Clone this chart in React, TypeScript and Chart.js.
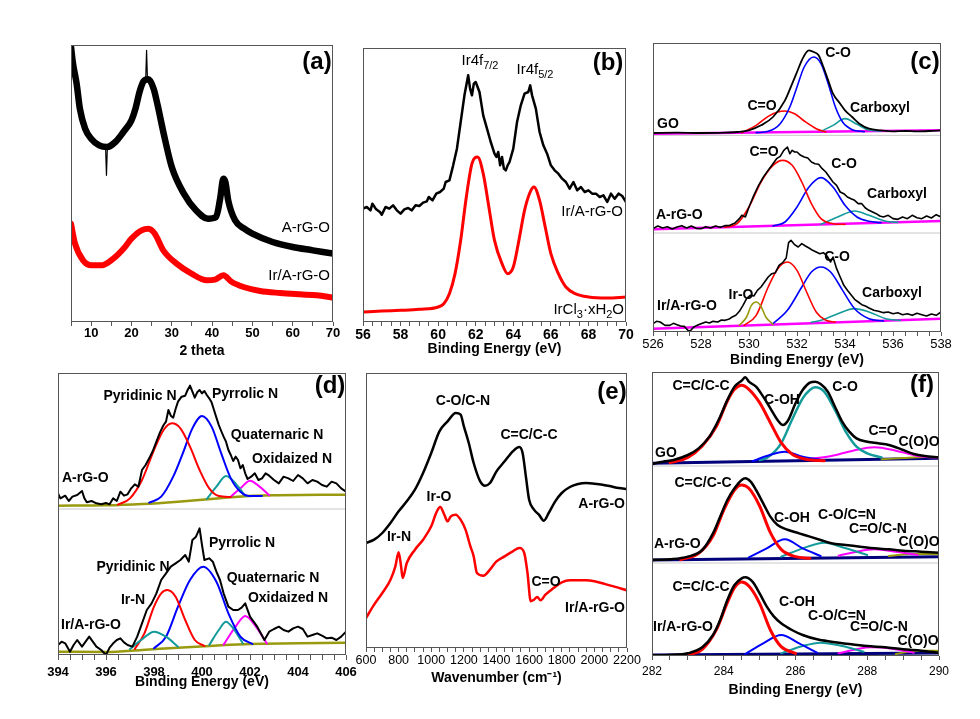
import React, { useEffect, useRef } from 'react';
import { Chart, registerables } from 'chart.js';

Chart.register(...registerables);

const FONT = '"Liberation Sans", Arial, Helvetica, sans-serif';
const BLACK = '#000000';
const RED = '#ff0000';
const BLUE = '#0000ff';
const TEAL = '#139a9a';
const MAGENTA = '#ff00ff';
const OLIVE = '#9a9a10';
const NAVY = '#00007a';
const SEPARATOR = '#c8c8c8';

// ===== (a) XRD, intensity in arbitrary units =====
const xrdTheta_ArGO = [5, 5.5, 6.4, 7.2, 8.5, 10, 12, 14, 16, 18, 20, 21, 22, 23, 24.2, 25.5, 26.5, 28, 30, 33, 36, 39, 41, 42, 42.8, 43.3, 44, 45.7, 48, 50, 55, 60, 65, 70];
const xrdInt_ArGO = [825, 775, 715, 640, 580, 550, 530, 525, 540, 570, 605, 640, 690, 722, 728, 700, 650, 565, 465, 385, 335, 310, 315, 370, 430, 420, 365, 305, 280, 265, 240, 225, 215, 205];
const xrdSpike1Theta = [23.55, 23.75, 23.95];
const xrdSpike1Int = [735, 815, 735];
const xrdSpike2Theta = [13.6, 13.8, 14.0];
const xrdSpike2Int = [515, 440, 515];
const xrdTheta_Ir = [5, 6, 8, 10.1, 12.6, 15.5, 18.4, 20, 22.5, 24.2, 25.8, 27.9, 31.2, 34.9, 38.7, 40.7, 42.8, 44.9, 47.8, 51.9, 56.9, 61.8, 66, 70];
const xrdInt_Ir = [295, 235, 185, 170, 170, 190, 225, 250, 275, 280, 265, 215, 175, 145, 125, 127, 140, 120, 105, 93, 87, 83, 80, 73];

// ===== (b) Ir 4f =====
const ir4fBE_IrArGO = [56.0, 56.2, 56.4, 56.5, 56.7, 56.9, 57.0, 57.2, 57.4, 57.6, 57.8, 58.0, 58.2, 58.4, 58.6, 58.8, 59.0, 59.2, 59.4, 59.5, 59.7, 59.9, 60.1, 60.3, 60.4, 60.6, 60.8, 61.0, 61.2, 61.4, 61.6, 61.7, 61.8, 61.9, 62.0, 62.2, 62.4, 62.6, 62.8, 63.0, 63.1, 63.2, 63.3, 63.4, 63.5, 63.6, 63.7, 63.8, 64.0, 64.2, 64.4, 64.6, 64.8, 64.9, 65.0, 65.2, 65.4, 65.6, 65.8, 66.0, 66.2, 66.4, 66.6, 66.8, 67.0, 67.2, 67.4, 67.6, 67.8, 68.0, 68.2, 68.4, 68.6, 68.8, 69.0, 69.2, 69.4, 69.6, 69.8, 70.0];
const ir4fInt_IrArGO = [340, 345, 335, 355, 338, 330, 322, 345, 340, 350, 335, 325, 338, 342, 335, 350, 348, 358, 362, 375, 365, 385, 390, 400, 420, 425, 470, 520, 600, 680, 740, 700, 680, 715, 720, 690, 620, 580, 540, 505, 495, 510, 470, 495, 460, 455, 470, 480, 520, 600, 650, 685, 690, 710, 680, 640, 570, 530, 505, 470, 455, 445, 430, 420, 400, 420, 395, 405, 390, 395, 385, 385, 375, 380, 360, 385, 370, 385, 378, 360];
const ir4fBE_IrCl3 = [56, 57, 58, 59, 60, 60.3, 60.6, 60.9, 61.2, 61.5, 61.8, 62.1, 62.4, 62.7, 63.0, 63.4, 63.7, 64.0, 64.3, 64.6, 64.9, 65.1, 65.4, 65.7, 66.0, 66.4, 66.8, 67.3, 68, 69, 70];
const ir4fInt_IrCl3 = [30, 33, 35, 38, 45, 55, 85, 145, 245, 375, 475, 495, 445, 345, 245, 175, 145, 165, 245, 335, 390, 405, 365, 285, 205, 145, 105, 85, 75, 72, 75];

// ===== (c) O 1s =====
const o1sGO_BE = [526, 527, 528, 529, 529.5, 530, 530.5, 531, 531.5, 531.8, 532, 532.2, 532.4, 532.5, 532.7, 532.9, 533.1, 533.3, 533.5, 533.8, 534, 534.3, 534.6, 535, 535.5, 536, 536.5, 537, 537.5, 538];
const o1sGO_Int = [597, 598, 597, 598, 600, 605, 620, 645, 695, 745, 780, 815, 840, 845, 840, 830, 795, 755, 715, 685, 665, 645, 625, 610, 605, 602, 603, 602, 603, 605];
const o1sGO_CO_BE = [530.3, 530.8, 531.3, 531.7, 532.0, 532.3, 532.7, 533.0, 533.3, 533.6, 533.9, 534.3, 534.8];
const o1sGO_CO_Int = [598, 602, 625, 675, 735, 795, 825, 805, 745, 675, 630, 607, 601];
const o1sGO_CdO_BE = [529.7, 530.3, 530.8, 531.2, 531.5, 531.9, 532.3, 532.8, 533.2];
const o1sGO_CdO_Int = [598, 620, 647, 660, 663, 655, 633, 610, 600];
const o1sGO_COOH_BE = [533.0, 533.5, 534.0, 534.5, 535.0, 535.5];
const o1sGO_COOH_Int = [602, 620, 640, 623, 606, 603];
const o1sGO_Base_BE = [526, 538];
const o1sGO_Base_Int = [595, 605];

const o1sA_BE = [526, 526.2, 526.4, 526.6, 526.8, 527.0, 527.2, 527.4, 527.6, 527.8, 528.0, 528.2, 528.4, 528.6, 528.8, 529.0, 529.2, 529.4, 529.6, 529.7, 529.85, 530.0, 530.2, 530.4, 530.6, 530.8, 531.0, 531.15, 531.3, 531.45, 531.6, 531.7, 531.8, 531.9, 532.0, 532.15, 532.3, 532.45, 532.6, 532.75, 532.9, 533.05, 533.2, 533.35, 533.5, 533.65, 533.8, 533.95, 534.1, 534.25, 534.4, 534.55, 534.7, 534.85, 535.0, 535.15, 535.3, 535.45, 535.6, 535.8, 536.0, 536.2, 536.4, 536.6, 536.8, 537.0, 537.2, 537.4, 537.6, 537.8, 538.0];
const o1sA_Int = [310, 318, 312, 316, 309, 315, 319, 312, 318, 311, 310, 316, 312, 318, 314, 319, 320, 326, 340, 350, 345, 375, 410, 440, 465, 485, 505, 520, 527, 545, 555, 535, 545, 540, 540, 530, 525, 522, 510, 505, 503, 490, 480, 465, 450, 440, 420, 415, 405, 400, 395, 385, 385, 372, 365, 360, 355, 348, 345, 350, 340, 338, 345, 340, 350, 343, 340, 348, 342, 352, 345];
const o1sA_CdO_BE = [529.0, 529.5, 530.0, 530.5, 531.0, 531.4, 531.8, 532.2, 532.6, 533.0, 533.5, 534];
const o1sA_CdO_Int = [314, 325, 375, 450, 500, 515, 500, 450, 385, 340, 325, 323];
const o1sA_CO_BE = [531.0, 531.5, 532.0, 532.5, 533.0, 533.5, 534.0, 534.5, 535.0, 535.5];
const o1sA_CO_Int = [318, 330, 375, 435, 463, 435, 380, 345, 332, 328];
const o1sA_COOH_BE = [533.0, 533.7, 534.4, 535.0, 535.7, 536.2];
const o1sA_COOH_Int = [323, 345, 363, 350, 332, 329];
const o1sA_Base_BE = [526, 538];
const o1sA_Base_Int = [308, 333];

const o1sIr_BE = [526, 526.15, 526.3, 526.5, 526.7, 526.85, 527.0, 527.15, 527.3, 527.45, 527.55, 527.7, 527.85, 528.0, 528.2, 528.35, 528.5, 528.7, 528.85, 529.0, 529.15, 529.3, 529.45, 529.6, 529.75, 529.9, 530.05, 530.2, 530.35, 530.5, 530.65, 530.8, 530.95, 531.1, 531.25, 531.4, 531.55, 531.65, 531.75, 531.9, 532.05, 532.2, 532.35, 532.5, 532.65, 532.8, 532.95, 533.1, 533.25, 533.4, 533.5, 533.65, 533.8, 533.95, 534.1, 534.25, 534.4, 534.55, 534.7, 534.85, 535.0, 535.2, 535.4, 535.6, 535.8, 536.0, 536.2, 536.4, 536.6, 536.8, 537.0, 537.2, 537.4, 537.6, 537.8, 538];
const o1sIr_Int = [25, 32, 30, 20, 20, 26, 22, 18, 17, 5, 3, 15, 20, 25, 30, 27, 32, 30, 36, 35, 38, 45, 50, 62, 80, 100, 110, 108, 125, 135, 150, 165, 175, 178, 200, 208, 222, 268, 275, 262, 255, 265, 258, 252, 245, 240, 235, 238, 228, 210, 225, 190, 165, 140, 125, 112, 98, 90, 82, 78, 72, 65, 62, 58, 60, 55, 58, 52, 55, 50, 56, 52, 48, 54, 50, 60];
const o1sIr_IrO_BE = [529.6, 529.9, 530.1, 530.3, 530.5, 530.7, 531.0];
const o1sIr_IrO_Int = [20, 45, 80, 90, 77, 45, 23];
const o1sIr_CdO_BE = [529.8, 530.3, 530.8, 531.2, 531.6, 532.0, 532.4, 532.8, 533.2, 533.6];
const o1sIr_CdO_Int = [20, 50, 135, 190, 210, 185, 120, 60, 35, 30];
const o1sIr_CO_BE = [531.0, 531.6, 532.2, 532.6, 533.0, 533.4, 533.9, 534.4, 535.0, 535.6];
const o1sIr_CO_Int = [25, 65, 135, 180, 195, 180, 125, 70, 40, 33];
const o1sIr_COOH_BE = [532.6, 533.0, 533.7, 534.4, 535.0, 535.7, 536.3];
const o1sIr_COOH_Int = [29, 35, 55, 70, 60, 40, 35];
const o1sIr_Base_BE = [526, 538];
const o1sIr_Base_Int = [10, 40];
const o1sSeparators = [590, 297];

// ===== (d) N 1s =====
const n1sA_BE = [394, 394.1, 394.3, 394.45, 394.6, 394.8, 395.0, 395.1, 395.2, 395.4, 395.6, 395.8, 396, 396.15, 396.3, 396.45, 396.6, 396.75, 396.9, 397.05, 397.2, 397.35, 397.5, 397.65, 397.8, 397.95, 398.1, 398.25, 398.4, 398.5, 398.6, 398.7, 398.8, 398.9, 399.0, 399.15, 399.3, 399.4, 399.5, 399.6, 399.7, 399.8, 399.9, 400.0, 400.1, 400.2, 400.3, 400.4, 400.5, 400.6, 400.7, 400.8, 400.9, 401.0, 401.1, 401.2, 401.3, 401.4, 401.5, 401.6, 401.7, 401.8, 401.9, 402.05, 402.2, 402.35, 402.5, 402.65, 402.8, 403.0, 403.2, 403.4, 403.6, 403.8, 404.0, 404.2, 404.4, 404.6, 404.8, 405.0, 405.2, 405.4, 405.6, 405.8, 406];
const n1sA_Int = [485, 470, 478, 462, 475, 480, 492, 470, 458, 462, 455, 452, 456, 452, 470, 462, 490, 478, 482, 500, 512, 505, 555, 570, 590, 612, 640, 668, 690, 700, 735, 718, 712, 738, 760, 775, 778, 795, 808, 790, 772, 788, 795, 785, 792, 780, 770, 758, 735, 712, 690, 672, 655, 640, 615, 600, 582, 595, 585, 560, 570, 545, 528, 535, 545, 525, 530, 545, 538, 525, 515, 535, 530, 522, 540, 530, 515, 525, 520, 510, 505, 520, 515, 500, 490];
const n1sA_Base_BE = [394, 396, 397.5, 399, 400.5, 401.5, 403, 406];
const n1sA_Base_Int = [448, 449, 453, 460, 469, 475, 479, 481];
const n1sA_Pyridinic_BE = [396.5, 397.0, 397.5, 398.0, 398.4, 398.75, 399.1, 399.5, 399.9, 400.3, 400.7, 401.2];
const n1sA_Pyridinic_Int = [451, 470, 525, 615, 675, 695, 680, 625, 555, 500, 477, 474];
const n1sA_Pyrrolic_BE = [397.8, 398.3, 398.8, 399.2, 399.6, 400.0, 400.4, 400.8, 401.2, 401.6, 402.0, 402.5];
const n1sA_Pyrrolic_Int = [457, 475, 535, 605, 680, 717, 685, 605, 530, 490, 477, 477];
const n1sA_Quaternary_BE = [400.2, 400.6, 401.0, 401.4, 401.8];
const n1sA_Quaternary_Int = [468, 505, 537, 515, 477];
const n1sA_Oxidized_BE = [401.2, 401.6, 402.0, 402.4, 402.8];
const n1sA_Oxidized_Int = [475, 500, 523, 505, 479];

const n1sIr_BE = [394, 394.15, 394.3, 394.5, 394.65, 394.8, 395.0, 395.15, 395.3, 395.45, 395.6, 395.8, 396.0, 396.15, 396.3, 396.45, 396.6, 396.75, 396.9, 397.1, 397.3, 397.5, 397.7, 397.9, 398.1, 398.3, 398.5, 398.7, 398.9, 399.1, 399.3, 399.45, 399.6, 399.75, 399.9, 400.0, 400.1, 400.3, 400.45, 400.6, 400.75, 400.9, 401.1, 401.3, 401.5, 401.65, 401.8, 402.0, 402.15, 402.3, 402.45, 402.6, 402.8, 403.0, 403.2, 403.4, 403.6, 403.8, 404.0, 404.2, 404.4, 404.6, 404.8, 405.0, 405.2, 405.4, 405.6, 405.8, 406];
const n1sIr_Int = [30, 40, 35, 10, 30, 45, 25, 40, 55, 40, 25, 15, 0, 22, 35, 45, 50, 38, 30, 25, 55, 95, 135, 155, 185, 225, 245, 265, 275, 285, 300, 280, 345, 355, 380, 330, 285, 290, 280, 250, 225, 185, 145, 135, 135, 142, 155, 115, 100, 85, 65, 45, 70, 78, 85, 75, 70, 80, 85, 78, 55, 60, 65, 58, 50, 52, 45, 55, 70];
const n1sIr_Base_BE = [394, 396, 397.5, 399, 400.5, 402, 404, 406];
const n1sIr_Base_Int = [10, 9, 15, 22, 28, 33, 35, 37];
const n1sIr_IrN_BE = [397.0, 397.5, 398.0, 398.5, 399.0];
const n1sIr_IrN_Int = [18, 47, 70, 55, 25];
const n1sIr_Pyridinic_BE = [397.2, 397.6, 398.0, 398.3, 398.55, 398.9, 399.3, 399.7, 400.1];
const n1sIr_Pyridinic_Int = [18, 65, 145, 185, 195, 175, 105, 45, 27];
const n1sIr_Pyrrolic_BE = [398.0, 398.5, 399.0, 399.5, 400.05, 400.6, 401.1, 401.6, 402.1];
const n1sIr_Pyrrolic_Int = [20, 55, 145, 225, 265, 220, 125, 55, 33];
const n1sIr_Quaternary_BE = [400.3, 400.7, 401.0, 401.3, 401.7];
const n1sIr_Quaternary_Int = [30, 75, 100, 80, 35];
const n1sIr_Oxidized_BE = [400.9, 401.4, 401.8, 402.2, 402.7];
const n1sIr_Oxidized_Int = [31, 85, 117, 90, 35];
const n1sSeparators = [438];

// ===== (e) FT-IR =====
const irWave_ArGO = [600, 650, 700, 750, 800, 850, 900, 950, 1000, 1050, 1100, 1150, 1180, 1200, 1230, 1260, 1300, 1330, 1360, 1400, 1450, 1500, 1540, 1560, 1580, 1600, 1630, 1660, 1690, 1720, 1760, 1800, 1850, 1900, 1950, 2000, 2050, 2100, 2150, 2200];
const irTrans_ArGO = [315, 325, 345, 375, 410, 440, 475, 525, 585, 650, 680, 705, 700, 665, 615, 555, 500, 487, 495, 530, 560, 590, 603, 585, 515, 445, 415, 400, 382, 405, 440, 465, 483, 492, 495, 493, 490, 485, 480, 477];
const irWave_Ir = [600, 650, 700, 750, 780, 800, 815, 825, 850, 900, 950, 1000, 1030, 1055, 1080, 1100, 1120, 1150, 1180, 1210, 1240, 1260, 1280, 1320, 1360, 1400, 1450, 1500, 1540, 1570, 1590, 1610, 1630, 1650, 1670, 1700, 1750, 1800, 1850, 1900, 1950, 2000, 2100, 2200];
const irTrans_Ir = [90, 130, 165, 205, 245, 287, 245, 210, 255, 295, 325, 365, 405, 423, 400, 380, 395, 400, 385, 355, 305, 275, 225, 217, 235, 260, 275, 290, 300, 285, 225, 140, 145, 153, 143, 160, 180, 197, 203, 203, 203, 200, 187, 173];

// ===== (f) C 1s =====
const c1sGO_BE = [282, 282.3, 282.6, 283.0, 283.3, 283.6, 283.9, 284.1, 284.3, 284.5, 284.6, 284.7, 284.9, 285.1, 285.3, 285.5, 285.65, 285.8, 286.0, 286.2, 286.4, 286.55, 286.7, 286.9, 287.1, 287.3, 287.5, 287.7, 288.0, 288.3, 288.6, 289.0, 289.3, 289.6, 290];
const c1sGO_Int = [576, 583, 588, 603, 623, 658, 718, 768, 808, 826, 836, 823, 808, 778, 743, 708, 693, 708, 758, 798, 820, 823, 816, 793, 748, 703, 673, 653, 643, 638, 633, 618, 606, 600, 596];
const c1sGO_CC_BE = [282.5, 283.0, 283.4, 283.8, 284.1, 284.3, 284.5, 284.7, 285.0, 285.3, 285.6, 285.9, 286.3, 286.8];
const c1sGO_CC_Int = [580, 596, 630, 690, 765, 800, 812, 800, 760, 700, 640, 606, 590, 586];
const c1sGO_COH_BE = [284.8, 285.2, 285.7, 286.2, 286.7];
const c1sGO_COH_Int = [584, 600, 613, 598, 589];
const c1sGO_CO_BE = [285.0, 285.2, 285.6, 285.9, 286.2, 286.4, 286.55, 286.8, 287.1, 287.4, 287.7, 288.0, 288.4];
const c1sGO_CO_Int = [588, 594, 638, 708, 773, 798, 806, 793, 738, 673, 628, 608, 596];
const c1sGO_CdO_BE = [286.4, 287.0, 287.6, 288.2, 288.8, 289.4, 290];
const c1sGO_CdO_Int = [591, 600, 616, 626, 616, 600, 595];
const c1sGO_COO_BE = [288.4, 289.0, 289.6, 290];
const c1sGO_COO_Int = [590, 594, 597, 596];
const c1sGO_Base_BE = [282, 290];
const c1sGO_Base_Int = [578, 593];

const c1sA_BE = [282, 282.5, 283.0, 283.4, 283.7, 283.9, 284.1, 284.3, 284.5, 284.6, 284.75, 284.9, 285.1, 285.3, 285.5, 285.8, 286.1, 286.4, 286.7, 287.0, 287.4, 287.8, 288.2, 288.6, 289.0, 289.5, 290];
const c1sA_Int = [288, 290, 298, 318, 368, 418, 468, 503, 528, 533, 523, 498, 458, 418, 393, 378, 368, 358, 348, 338, 333, 328, 323, 320, 316, 313, 310];
const c1sA_CC_BE = [282.8, 283.3, 283.7, 284.0, 284.3, 284.5, 284.7, 285.0, 285.3, 285.6, 286.0, 286.4];
const c1sA_CC_Int = [289, 308, 360, 438, 498, 513, 503, 450, 370, 320, 298, 293];
const c1sA_COH_BE = [284.7, 285.2, 285.7, 286.2, 286.7];
const c1sA_COH_Int = [296, 323, 350, 323, 300];
const c1sA_CO_BE = [285.6, 286.2, 286.8, 287.4, 288.0];
const c1sA_CO_Int = [298, 323, 340, 323, 303];
const c1sA_CdO_BE = [287.2, 287.7, 288.2, 288.8, 289.4];
const c1sA_CdO_Int = [301, 313, 320, 313, 303];
const c1sA_COO_BE = [288.6, 289.2, 289.8, 290];
const c1sA_COO_Int = [300, 306, 306, 305];
const c1sA_Base_BE = [282, 290];
const c1sA_Base_Int = [288, 298];

const c1sIr_BE = [282, 282.5, 283.0, 283.4, 283.7, 283.9, 284.1, 284.3, 284.5, 284.6, 284.8, 285.0, 285.2, 285.4, 285.6, 285.9, 286.2, 286.6, 287.0, 287.5, 288.0, 288.5, 289.0, 289.5, 290];
const c1sIr_Int = [2, 3, 8, 26, 63, 108, 168, 213, 233, 236, 223, 188, 148, 118, 98, 78, 63, 50, 43, 36, 30, 26, 20, 16, 10];
const c1sIr_CC_BE = [283.0, 283.4, 283.8, 284.1, 284.3, 284.5, 284.7, 285.0, 285.3, 285.6, 286.0];
const c1sIr_CC_Int = [3, 20, 80, 160, 205, 222, 210, 158, 78, 28, 8];
const c1sIr_COH_BE = [284.6, 285.1, 285.6, 286.1, 286.6];
const c1sIr_COH_Int = [6, 38, 63, 38, 10];
const c1sIr_CO_BE = [285.6, 286.2, 286.7, 287.3, 287.9];
const c1sIr_CO_Int = [8, 30, 40, 30, 13];
const c1sIr_CdO_BE = [287.2, 287.7, 288.1, 288.7, 289.3];
const c1sIr_CdO_Int = [8, 20, 26, 22, 10];
const c1sIr_COO_BE = [288.8, 289.4, 290];
const c1sIr_COO_Int = [6, 16, 16];
const c1sIr_Base_BE = [282, 290];
const c1sIr_Base_Int = [3, 9];
const c1sSeparators = [570, 279];

// ===== helpers =====
type Series = { x: number[]; y: number[]; color: string; width: number; smooth: boolean };
type Label = { t: string; dx: number; dy: number; a: 'l' | 'c' | 'r'; s: number; b: boolean };

function ser(x: number[], y: number[], color: string, width: number, smooth = true): Series {
  return { x, y, color, width, smooth };
}
function seps(xmin: number, xmax: number, ys: number[]): Series[] {
  return ys.map((v) => ser([xmin, xmax], [v, v], SEPARATOR, 1, false));
}
function L(t: string, dx: number, dy: number, a: 'l' | 'c' | 'r' = 'c', s = 14, b = true): Label {
  return { t, dx, dy, a, s, b };
}

const PANELS: any[] = [
  {
    key: 'a', left: 71, top: 45, w: 262, h: 277, xmin: 5, xmax: 70, ymax: 831, step: 5, labelStep: 10,
    tickSize: 13, tickBold: true, tl: 4, tp: 0, tpd: 3, title: '2 theta',
    series: [
      ser(xrdSpike1Theta, xrdSpike1Int, BLACK, 1.2, false),
      ser(xrdSpike2Theta, xrdSpike2Int, BLACK, 1.2, false),
      ser(xrdTheta_ArGO, xrdInt_ArGO, BLACK, 6.5),
      ser(xrdTheta_Ir, xrdInt_Ir, RED, 6),
    ],
    labels: [
      L('(a)', 246, 17, 'c', 24, true),
      L('A-rG-O', 259, 183, 'r', 15, false),
      L('Ir/A-rG-O', 259, 231, 'r', 15, false),
    ],
  },
  {
    key: 'b', left: 363, top: 48, w: 263, h: 274, xmin: 56, xmax: 70, ymax: 822, step: 0.5, labelStep: 2,
    tickSize: 14, tickBold: true, tl: 4, tp: 2, tpd: -3, title: 'Binding Energy (eV)',
    series: [
      ser(ir4fBE_IrArGO, ir4fInt_IrArGO, BLACK, 2.5, false),
      ser(ir4fBE_IrCl3, ir4fInt_IrCl3, RED, 3),
    ],
    labels: [
      L('(b)', 245, 15, 'c', 24, true),
      L('Ir4f_{7/2}', 117, 13, 'c', 15, false),
      L('Ir4f_{5/2}', 172, 22, 'c', 15, false),
      L('Ir/A-rG-O', 260, 164, 'r', 15, false),
      L('IrCl_{3}·xH_{2}O', 261, 262, 'r', 15, false),
    ],
  },
  {
    key: 'c', left: 653, top: 43, w: 288, h: 289, xmin: 526, xmax: 538, ymax: 867, step: 0.5, labelStep: 2,
    tickSize: 13, tickBold: false, tl: 4, tp: 1, tpd: 0, title: 'Binding Energy (eV)',
    series: [
      ser(o1sGO_BE, o1sGO_Int, BLACK, 1.8),
      ser(o1sA_BE, o1sA_Int, BLACK, 1.6, false),
      ser(o1sIr_BE, o1sIr_Int, BLACK, 1.6, false),
      ser(o1sGO_CO_BE, o1sGO_CO_Int, BLUE, 1.6),
      ser(o1sGO_CdO_BE, o1sGO_CdO_Int, RED, 1.6),
      ser(o1sGO_COOH_BE, o1sGO_COOH_Int, TEAL, 1.6),
      ser(o1sA_CdO_BE, o1sA_CdO_Int, RED, 1.6),
      ser(o1sA_CO_BE, o1sA_CO_Int, BLUE, 1.6),
      ser(o1sA_COOH_BE, o1sA_COOH_Int, TEAL, 1.6),
      ser(o1sIr_IrO_BE, o1sIr_IrO_Int, OLIVE, 1.6),
      ser(o1sIr_CdO_BE, o1sIr_CdO_Int, RED, 1.6),
      ser(o1sIr_CO_BE, o1sIr_CO_Int, BLUE, 1.6),
      ser(o1sIr_COOH_BE, o1sIr_COOH_Int, TEAL, 1.6),
      ser(o1sGO_Base_BE, o1sGO_Base_Int, MAGENTA, 2.5, false),
      ser(o1sA_Base_BE, o1sA_Base_Int, MAGENTA, 2.5, false),
      ser(o1sIr_Base_BE, o1sIr_Base_Int, MAGENTA, 2.5, false),
      ...seps(526, 538, o1sSeparators),
    ],
    labels: [
      L('(c)', 272, 19, 'c', 24, true),
      L('C-O', 185, 10),
      L('C=O', 109, 63),
      L('Carboxyl', 227, 65),
      L('GO', 4, 81, 'l'),
      L('C=O', 111, 109),
      L('C-O', 191, 121),
      L('Carboxyl', 244, 151),
      L('A-rG-O', 3, 172, 'l'),
      L('C-O', 184, 214),
      L('Ir-O', 88, 252),
      L('Carboxyl', 239, 250),
      L('Ir/A-rG-O', 4, 263, 'l'),
    ],
  },
  {
    key: 'd', left: 58, top: 373, w: 288, h: 282, xmin: 394, xmax: 406, ymax: 846, step: 0.5, labelStep: 2,
    tickSize: 13, tickBold: true, tl: 5, tp: 5, tpd: -10, title: 'Binding Energy (eV)',
    series: [
      ser(n1sA_BE, n1sA_Int, BLACK, 2, false),
      ser(n1sIr_BE, n1sIr_Int, BLACK, 2, false),
      ser(n1sA_Pyridinic_BE, n1sA_Pyridinic_Int, RED, 2),
      ser(n1sA_Pyrrolic_BE, n1sA_Pyrrolic_Int, BLUE, 2),
      ser(n1sA_Quaternary_BE, n1sA_Quaternary_Int, TEAL, 2),
      ser(n1sA_Oxidized_BE, n1sA_Oxidized_Int, MAGENTA, 2),
      ser(n1sIr_IrN_BE, n1sIr_IrN_Int, TEAL, 2),
      ser(n1sIr_Pyridinic_BE, n1sIr_Pyridinic_Int, RED, 2),
      ser(n1sIr_Pyrrolic_BE, n1sIr_Pyrrolic_Int, BLUE, 2),
      ser(n1sIr_Quaternary_BE, n1sIr_Quaternary_Int, TEAL, 2),
      ser(n1sIr_Oxidized_BE, n1sIr_Oxidized_Int, MAGENTA, 2),
      ser(n1sA_Base_BE, n1sA_Base_Int, OLIVE, 2.5),
      ser(n1sIr_Base_BE, n1sIr_Base_Int, OLIVE, 2.5),
      ...seps(394, 406, n1sSeparators),
    ],
    labels: [
      L('(d)', 272, 13, 'c', 24, true),
      L('Pyridinic N', 82, 23),
      L('Pyrrolic N', 187, 21),
      L('Quaternaric N', 219, 62),
      L('Oxidaized N', 234, 86),
      L('A-rG-O', 4, 105, 'l'),
      L('Pyrrolic N', 184, 170),
      L('Pyridinic N', 75, 194),
      L('Quaternaric N', 215, 205),
      L('Ir-N', 75, 227),
      L('Oxidaized N', 230, 225),
      L('Ir/A-rG-O', 3, 252, 'l'),
    ],
  },
  {
    key: 'e', left: 366, top: 373, w: 261, h: 275, xmin: 600, xmax: 2200, ymax: 825, step: 50, labelStep: 200,
    tickSize: 12.5, tickBold: false, tl: 4, tp: 2, tpd: 0, title: 'Wavenumber (cm\u207B\u00B9)',
    series: [
      ser(irWave_ArGO, irTrans_ArGO, BLACK, 2.5),
      ser(irWave_Ir, irTrans_Ir, RED, 2.5),
    ],
    labels: [
      L('(e)', 246, 19, 'c', 24, true),
      L('C-O/C-N', 97, 28),
      L('C=C/C-C', 163, 62),
      L('A-rG-O', 259, 131, 'r'),
      L('Ir-O', 73, 124),
      L('Ir-N', 33, 164),
      L('C=O', 180, 209),
      L('Ir/A-rG-O', 259, 235, 'r'),
    ],
  },
  {
    key: 'f', left: 652, top: 372, w: 287, h: 284, xmin: 282, xmax: 290, ymax: 852, step: 0.5, labelStep: 2,
    tickSize: 12, tickBold: false, tl: 4, tp: 5, tpd: -2, title: 'Binding Energy (eV)',
    series: [
      ser(c1sGO_BE, c1sGO_Int, BLACK, 2.5),
      ser(c1sA_BE, c1sA_Int, BLACK, 2.5),
      ser(c1sIr_BE, c1sIr_Int, BLACK, 2.5),
      ser(c1sGO_CC_BE, c1sGO_CC_Int, RED, 3),
      ser(c1sGO_COH_BE, c1sGO_COH_Int, BLUE, 2),
      ser(c1sGO_CO_BE, c1sGO_CO_Int, TEAL, 2.5),
      ser(c1sGO_CdO_BE, c1sGO_CdO_Int, MAGENTA, 2),
      ser(c1sGO_COO_BE, c1sGO_COO_Int, OLIVE, 2),
      ser(c1sA_CC_BE, c1sA_CC_Int, RED, 3),
      ser(c1sA_COH_BE, c1sA_COH_Int, BLUE, 2),
      ser(c1sA_CO_BE, c1sA_CO_Int, TEAL, 2),
      ser(c1sA_CdO_BE, c1sA_CdO_Int, MAGENTA, 2),
      ser(c1sA_COO_BE, c1sA_COO_Int, OLIVE, 2),
      ser(c1sIr_CC_BE, c1sIr_CC_Int, RED, 3),
      ser(c1sIr_COH_BE, c1sIr_COH_Int, BLUE, 2),
      ser(c1sIr_CO_BE, c1sIr_CO_Int, TEAL, 2),
      ser(c1sIr_CdO_BE, c1sIr_CdO_Int, MAGENTA, 2),
      ser(c1sIr_COO_BE, c1sIr_COO_Int, OLIVE, 2),
      ser(c1sGO_Base_BE, c1sGO_Base_Int, NAVY, 3, false),
      ser(c1sA_Base_BE, c1sA_Base_Int, NAVY, 3, false),
      ser(c1sIr_Base_BE, c1sIr_Base_Int, NAVY, 3, false),
      ...seps(282, 290, c1sSeparators),
    ],
    labels: [
      L('(f)', 270, 13, 'c', 24, true),
      L('C=C/C-C', 49, 14),
      L('C-OH', 130, 28),
      L('C-O', 193, 15),
      L('C=O', 231, 59),
      L('C(O)O', 267, 70),
      L('GO', 3, 81, 'l'),
      L('C=C/C-C', 51, 111),
      L('C-OH', 140, 146),
      L('C-O/C=N', 195, 143),
      L('C=O/C-N', 226, 157),
      L('C(O)O', 267, 170),
      L('A-rG-O', 2, 172, 'l'),
      L('C=C/C-C', 49, 215),
      L('C-OH', 145, 230),
      L('C-O/C=N', 185, 244),
      L('C=O/C-N', 227, 255),
      L('C(O)O', 266, 269),
      L('Ir/A-rG-O', 1, 255, 'l'),
    ],
  },
];

// ===== drawing of frame + annotations =====
function splitRich(t: string) {
  const out: { s: string; sub: boolean }[] = [];
  const re = /_\{([^}]*)\}/g;
  let last = 0;
  let m: RegExpExecArray | null;
  while ((m = re.exec(t))) {
    if (m.index > last) out.push({ s: t.slice(last, m.index), sub: false });
    out.push({ s: m[1], sub: true });
    last = re.lastIndex;
  }
  if (last < t.length) out.push({ s: t.slice(last), sub: false });
  return out;
}

function drawLabel(ctx: CanvasRenderingContext2D, lb: Label, ox: number, oy: number) {
  const parts = splitRich(lb.t);
  const fontOf = (sub: boolean) => `${lb.b ? 'bold ' : ''}${sub ? Math.round(lb.s * 0.72) : lb.s}px ${FONT}`;
  let total = 0;
  for (const p of parts) {
    ctx.font = fontOf(p.sub);
    total += ctx.measureText(p.s).width;
  }
  let x = ox + lb.dx - (lb.a === 'c' ? total / 2 : lb.a === 'r' ? total : 0);
  const y = oy + lb.dy;
  ctx.textBaseline = 'middle';
  ctx.textAlign = 'left';
  ctx.fillStyle = '#000';
  for (const p of parts) {
    ctx.font = fontOf(p.sub);
    ctx.fillText(p.s, x, p.sub ? y + lb.s * 0.3 : y);
    x += ctx.measureText(p.s).width;
  }
}

const frameLabels = {
  id: 'frameLabels',
  afterDraw(chart: any, _args: any, opts: any) {
    const { ctx, chartArea: a } = chart;
    ctx.save();
    ctx.strokeStyle = '#555';
    ctx.lineWidth = 1;
    ctx.strokeRect(a.left + 0.5, a.top + 0.5, a.width - 1, a.height - 1);
    for (const lb of opts.labels || []) drawLabel(ctx, lb, a.left, a.top);
    ctx.restore();
  },
};

const PAD_X = 20;
const PAD_B = 12;

function Panel({ p }: { p: any }) {
  const ref = useRef<HTMLCanvasElement>(null);
  const scaleH = p.tl + 2 * p.tp + 30 + 2 * p.tpd;
  const cw = p.w + 2 * PAD_X;
  const ch = p.h + scaleH + PAD_B;

  useEffect(() => {
    const chart = new Chart(ref.current as HTMLCanvasElement, {
      type: 'line',
      data: {
        datasets: p.series.map((s: Series) => ({
          data: s.x.map((x, i) => ({ x, y: s.y[i] })),
          borderColor: s.color,
          borderWidth: s.width,
          pointRadius: 0,
          fill: false,
          tension: 0,
          cubicInterpolationMode: s.smooth ? 'monotone' : 'default',
          borderJoinStyle: 'round',
          borderCapStyle: 'round',
        })),
      },
      options: {
        responsive: false,
        animation: false,
        events: [],
        layout: { padding: { left: PAD_X, right: PAD_X, top: 0, bottom: PAD_B }, autoPadding: false },
        plugins: {
          legend: { display: false },
          tooltip: { enabled: false },
          frameLabels: { labels: p.labels },
        } as any,
        scales: {
          x: {
            type: 'linear',
            min: p.xmin,
            max: p.xmax,
            border: { display: false },
            grid: { display: true, drawOnChartArea: false, drawTicks: true, tickLength: p.tl, color: '#555' },
            ticks: {
              stepSize: p.step,
              autoSkip: false,
              maxRotation: 0,
              minRotation: 0,
              padding: p.tp,
              color: '#000',
              font: { family: FONT, size: p.tickSize, weight: p.tickBold ? 'bold' : 'normal', lineHeight: '14px' },
              callback: (v: any) => {
                const n = Number(v);
                const r = n / p.labelStep;
                return Math.abs(r - Math.round(r)) < 1e-6 ? String(Math.round(n)) : '';
              },
            },
            title: {
              display: true,
              text: p.title,
              color: '#000',
              font: { family: FONT, size: 14, weight: 'bold', lineHeight: '16px' },
              padding: { top: p.tpd, bottom: p.tpd },
            },
          },
          y: { type: 'linear', display: false, min: 0, max: p.ymax },
        },
      } as any,
      plugins: [frameLabels],
    });
    return () => chart.destroy();
  }, []);

  return (
    <canvas
      ref={ref}
      width={cw}
      height={ch}
      style={{ position: 'absolute', left: p.left - PAD_X, top: p.top, width: cw, height: ch }}
    />
  );
}

export default function App() {
  return (
    <div style={{ position: 'absolute', left: 0, top: 0, width: 980, height: 719, background: '#fff', overflow: 'hidden' }}>
      {PANELS.map((p) => (
        <Panel key={p.key} p={p} />
      ))}
    </div>
  );
}
